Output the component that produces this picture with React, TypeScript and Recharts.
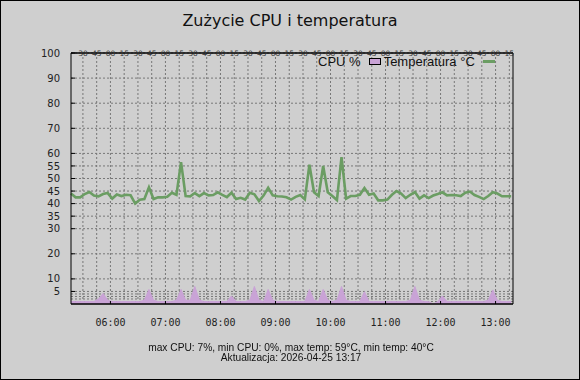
import React from "react";
import { Area, CartesianGrid, ComposedChart, Line, XAxis, YAxis } from "recharts";

// 5-minute samples starting at 05:17
const startMinute = 317;
const stepMinutes = 5;

const temperature = [
  44, 42.5, 42.5, 43.8, 44.6, 43.2, 42.9, 43.8, 44.2, 42,
  43.6, 43, 43.5, 43.3, 40, 41.5, 41.8, 46.5, 41.8, 42.5,
  42.5, 42.7, 44.3, 43.5, 56.5, 43, 42.9, 44.2, 43, 44.2,
  43.3, 43.4, 44.5, 43.5, 42.6, 44.3, 41.8, 42.3, 41.6, 44.3,
  43.7, 41, 43.2, 46.3, 43.3, 42.9, 42.8, 42.5, 41.6, 42.7,
  43.4, 41.7, 55.5, 44.5, 43, 55, 44.5, 43, 41.4, 58.5,
  42, 43, 43, 43.5, 46.2, 43.5, 44, 41.3, 41.3, 41.6,
  43.5, 45, 44, 42.2, 43.5, 44.6, 42, 43.3, 42.2, 43.2,
  43.8, 44.5, 43.3, 43.4, 43.3, 43, 44.3, 44.8, 43.4, 42.7,
  41.8, 43, 44.5, 44, 42.9, 42.9, 42.9,
];

const cpu = [
  1, 1, 1, 1, 1, 1, 2, 4.2, 1.5, 1,
  1, 1, 1, 1, 1, 1, 1.5, 5.8, 1.5, 1,
  1, 1, 1, 1.5, 5.8, 1.5, 1.5, 7, 1.5, 1,
  1, 1, 1, 1, 1, 3.2, 1, 1, 1, 1.5,
  7, 1.5, 1, 5.8, 1.5, 1, 1, 1, 1, 1,
  1, 1, 5.8, 1.5, 1, 5.8, 1.5, 1, 1.5, 7,
  1.5, 1, 1, 1, 4.9, 1, 1, 1, 1, 1,
  1, 1, 1, 1, 1.5, 7, 1.5, 1, 1, 0,
  1, 3.2, 1, 1, 1, 1, 1, 1, 1, 1,
  1, 1.5, 5.6, 1.5, 1, 1, 1,
];

const yTicks = [5, 10, 20, 30, 35, 40, 45, 50, 55, 60, 70, 80, 90, 100];
const minorYLines = [1, 2, 3, 4];
const hourTicks = [360, 420, 480, 540, 600, 660, 720, 780];
const hourLabels = ["06:00", "07:00", "08:00", "09:00", "10:00", "11:00", "12:00", "13:00"];
const quarterTicks = [
  330, 345, 360, 375, 390, 405, 420, 435, 450, 465, 480, 495, 510, 525, 540, 555,
  570, 585, 600, 615, 630, 645, 660, 675, 690, 705, 720, 735, 750, 765, 780, 795,
];

const data = temperature.map((t, i) => ({
  minute: startMinute + i * stepMinutes,
  temp: t,
  cpu: cpu[i],
}));

const BG = "#cfcfcf";
const GRID = "#777";
const CPU_FILL = "#c9a3d6";
const TEMP_STROKE = "#6b9d63";

function TopTick(props: any) {
  const { x, payload } = props;
  const mm = String(payload.value % 60).padStart(2, "0");
  return (
    <text x={x} y={56} textAnchor="middle" fontSize={7.5} fill="#333" fontFamily="DejaVu Sans">
      {mm}
    </text>
  );
}

export default function App() {
  return (
    <div style={{ position: "fixed", left: 0, top: 0, width: 580, height: 380, background: BG }}>
      <ComposedChart
        width={580}
        height={380}
        data={data}
        margin={{ top: 43, right: 0, bottom: 46, left: 0 }}
      >
        <CartesianGrid
          xAxisId="top"
          yAxisId="left"
          stroke={GRID}
          strokeDasharray="2 2"
          verticalValues={quarterTicks}
          horizontalValues={[...minorYLines, ...yTicks]}
        />
        <XAxis
          xAxisId="top"
          orientation="top"
          dataKey="minute"
          type="number"
          domain={[317, 799]}
          ticks={quarterTicks}
          height={10}
          tickLine={false}
          axisLine={{ stroke: "#000", strokeWidth: 1.5 }}
          tick={<TopTick />}
          interval={0}
        />
        <XAxis
          xAxisId="bottom"
          orientation="bottom"
          dataKey="minute"
          type="number"
          domain={[317, 799]}
          ticks={hourTicks}
          height={30}
          interval={0}
          tickSize={-3}
          tickMargin={18}
          tickLine={{ stroke: "#000" }}
          axisLine={{ stroke: "#000", strokeWidth: 1.5 }}
          tickFormatter={(v: number) => hourLabels[hourTicks.indexOf(v)]}
          tick={{ fontSize: 10, fill: "#222", fontFamily: "DejaVu Sans Mono" }}
        />
        <YAxis
          yAxisId="left"
          orientation="left"
          domain={[0, 100]}
          ticks={yTicks}
          width={71}
          interval={0}
          tickSize={-4}
          tickMargin={15}
          tickLine={{ stroke: "#000" }}
          axisLine={{ stroke: "#000" }}
          tick={{ fontSize: 10, fill: "#222", fontFamily: "DejaVu Sans" }}
        />
        <YAxis
          yAxisId="right"
          orientation="right"
          domain={[0, 100]}
          ticks={yTicks}
          width={67}
          interval={0}
          tickSize={-4}
          tickMargin={23}
          tickLine={{ stroke: "#000" }}
          axisLine={{ stroke: "#000" }}
          tick={{ fontSize: 10, fill: "#222", fontFamily: "DejaVu Sans", textAnchor: "start" }}
        />
        <Area
          xAxisId="bottom"
          yAxisId="left"
          type="linear"
          dataKey="cpu"
          stroke={CPU_FILL}
          fill={CPU_FILL}
          fillOpacity={1}
          isAnimationActive={false}
        />
        <Line
          xAxisId="bottom"
          yAxisId="left"
          type="linear"
          dataKey="temp"
          stroke={TEMP_STROKE}
          strokeWidth={2.6}
          dot={false}
          isAnimationActive={false}
        />
      </ComposedChart>

      <div
        style={{
          position: "absolute",
          top: 11,
          left: 0,
          width: 580,
          textAlign: "center",
          fontFamily: "DejaVu Sans",
          fontSize: 16,
          color: "#111",
        }}
      >
        Zużycie CPU i temperatura
      </div>

      <div
        style={{
          position: "absolute",
          top: 54,
          left: 318,
          display: "flex",
          alignItems: "center",
          fontFamily: "Liberation Sans",
          fontSize: 13,
          color: "#111",
          whiteSpace: "nowrap",
        }}
      >
        <span>CPU %</span>
        <span
          style={{
            display: "inline-block",
            width: 10,
            height: 5,
            margin: "0 3px 0 8px",
            background: CPU_FILL,
            border: "1px solid #000",
          }}
        />
        <span>Temperatura °C</span>
        <span
          style={{
            display: "inline-block",
            width: 12,
            height: 3,
            marginLeft: 8,
            background: TEMP_STROKE,
          }}
        />
      </div>

      <div
        style={{
          position: "absolute",
          top: 343,
          left: 0,
          width: 582,
          textAlign: "center",
          fontFamily: "Liberation Sans",
          fontSize: 10.2,
          lineHeight: "10px",
          color: "#111",
        }}
      >
        <div>max CPU: 7%, min CPU: 0%, max temp: 59°C, min temp: 40°C</div>
        <div>Aktualizacja: 2026-04-25 13:17</div>
      </div>

      <div
        style={{
          position: "absolute",
          inset: 0,
          border: "1px solid #000",
          pointerEvents: "none",
        }}
      />
    </div>
  );
}
